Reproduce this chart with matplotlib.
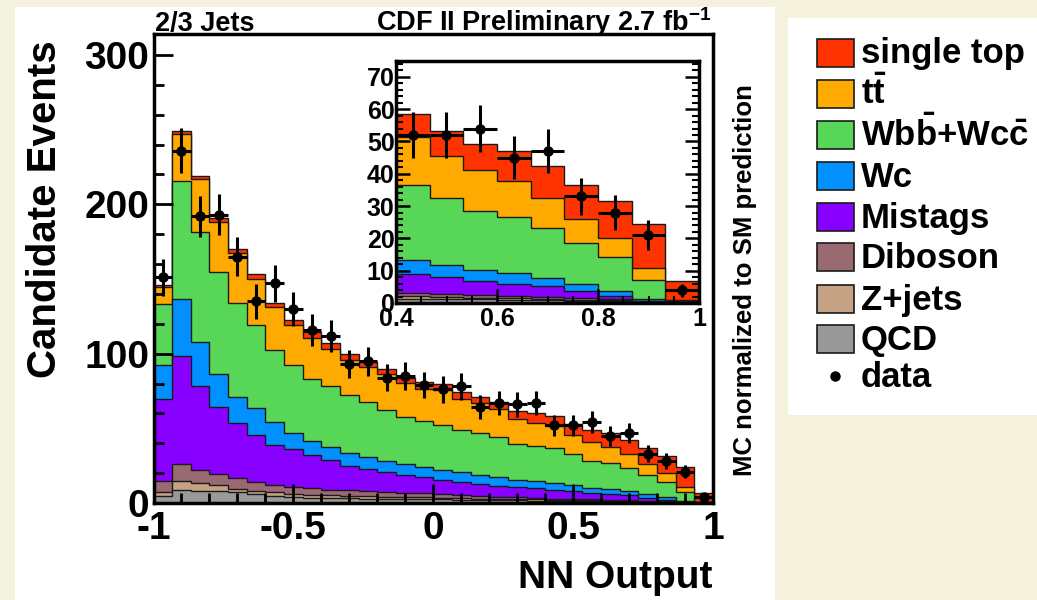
import numpy as np
import matplotlib
matplotlib.use("Agg")
import matplotlib.pyplot as plt
from matplotlib.patches import Rectangle
from matplotlib.ticker import MultipleLocator

plt.rcParams["font.family"] = ["Liberation Sans", "DejaVu Sans"]
plt.rcParams["font.weight"] = "bold"
plt.rcParams["mathtext.fontset"] = "custom"
plt.rcParams["mathtext.rm"] = "Liberation Sans:bold"
plt.rcParams["mathtext.bf"] = "Liberation Sans:bold"
plt.rcParams["mathtext.it"] = "Liberation Sans:bold"
plt.rcParams["axes.unicode_minus"] = False

# 30 bins of NN output from -1 to 1
edges = np.linspace(-1, 1, 31)

qcd = [4.9, 8.7, 7.8, 8.3, 7.1, 6.0, 4.9, 3.8, 3.5, 3.3, 3.1, 3.0, 2.9, 2.7, 2.6,
       2.4, 2.2, 2.0, 1.9, 1.8, 1.6, 1.3, 1.2, 1.1, 1.0, 0.9, 0.7, 0.5, 0.2, 0.05]
zjets = [2.7, 5.8, 5.4, 3.8, 2.3, 2.3, 2.2, 2.4, 2.0, 1.9, 1.8, 1.6, 1.4, 1.3, 1.1,
         1.1, 1.0, 1.0, 0.9, 0.8, 0.8, 0.8, 0.7, 0.6, 0.5, 0.4, 0.3, 0.3, 0.15, 0.05]
diboson = [6.9, 11.7, 8.9, 7.4, 7.4, 5.5, 5.2, 4.7, 4.3, 3.8, 3.6, 3.4, 3.2, 3.0, 2.8,
           2.3, 2.1, 1.8, 1.5, 1.3, 1.0, 0.9, 0.9, 0.8, 0.7, 0.6, 0.5, 0.3, 0.15, 0.1]
mistags = [55.3, 72.4, 55.9, 44.7, 36.9, 32.0, 26.8, 25.1, 22.2, 19.5, 16.5, 14.5, 13.0, 12.0, 10.7,
           9.6, 8.5, 7.9, 7.3, 6.6, 6.6, 6.0, 5.2, 4.2, 3.8, 3.3, 2.1, 1.2, 0.2, 0.1]
wc = [22.8, 38.3, 29.8, 22.4, 17.2, 18.0, 15.0, 10.7, 9.3, 8.8, 8.5, 8.0, 7.5, 7.0, 7.2,
      6.7, 6.7, 6.3, 6.1, 5.0, 4.5, 4.4, 3.9, 3.4, 3.3, 2.6, 2.4, 1.5, 0.6, 0.1]
wbb = [40.9, 78.9, 73.8, 67.8, 63.3, 55.7, 48.6, 45.4, 41.9, 40.7, 38.5, 36.8, 34.4, 31.4, 30.8,
       29.8, 28.5, 27.7, 26.8, 24.1, 23.5, 23.1, 20.6, 18.3, 17.4, 15.3, 12.6, 10.4, 5.8, 0.25]
ttbar = [11.0, 31.2, 35.4, 33.9, 32.9, 30.8, 28.6, 26.9, 27.5, 25.3, 24.0, 23.7, 23.7, 22.9, 21.3,
         23.5, 20.7, 20.1, 18.6, 16.8, 15.5, 15.0, 13.0, 12.7, 11.0, 9.5, 7.5, 5.8, 3.6, 0.2]
single_top = [1.5, 2.0, 2.0, 2.3, 2.9, 2.9, 2.9, 3.3, 3.8, 3.8, 3.5, 3.4, 3.8, 3.6, 4.5,
              4.0, 4.5, 4.1, 4.4, 5.5, 6.5, 6.9, 7.7, 8.1, 9.5, 9.8, 10.4, 11.7, 13.6, 6.1]
data = [151, 236, 192, 193, 165, 135, 147, 130, 116, 112, 93, 95, 84, 85, 79,
        76, 78, 64, 67, 66, 67, 52, 52, 54, 45, 47, 33, 28, 21, 4]

# bottom -> top
components = [qcd, zjets, diboson, mistags, wc, wbb, ttbar, single_top]
colors = ["#999999", "#c4a283", "#9a6a72", "#8800ff", "#0090ff", "#58d658", "#ffaa00", "#ff3300"]
names = ["QCD", "Z+jets", "Diboson", "Mistags", "Wc",
         r"Wb$\bar{\rm b}$+Wc$\bar{\rm c}$", r"t$\bar{\rm t}$", "single top"]


def draw_stack(ax, lo, hi):
    cum = np.cumsum(np.array(components), axis=0)
    for i in range(len(components) - 1, -1, -1):
        ax.stairs(cum[i][lo:hi], edges[lo:hi + 1], baseline=0, fill=True,
                  facecolor=colors[i], edgecolor="#1a1a1a", linewidth=1)
    d = np.array(data[lo:hi], dtype=float)
    centers = 0.5 * (edges[lo:hi] + edges[lo + 1:hi + 1])
    ax.errorbar(centers, d, xerr=0.5 * (edges[1] - edges[0]), yerr=np.sqrt(d),
                fmt="o", color="black", ms=6.5, elinewidth=2.2, capsize=0, zorder=5)


fig = plt.figure(figsize=(10.37, 6.0), dpi=100, facecolor="#f4f1dc")
W, H = 1037.0, 600.0

# white panel behind the plot
bg = fig.add_axes([15 / W, 0, (775 - 15) / W, (600 - 7) / H])
bg.set_facecolor("white")
bg.set_xticks([])
bg.set_yticks([])
for s in bg.spines.values():
    s.set_visible(False)
bg.set_zorder(-5)

# main histogram
ax = fig.add_axes([153.5 / W, (H - 503) / H, (713 - 153.5) / W, (503 - 34) / H])
ax.set_zorder(2)
ax.set_facecolor("white")
draw_stack(ax, 0, 30)
ax.set_xlim(-1, 1)
ax.set_ylim(0, 314)
ax.set_xticks([-1, -0.5, 0, 0.5, 1])
ax.set_xticklabels(["-1", "-0.5", "0", "0.5", "1"])
ax.set_yticks([0, 100, 200, 300])
ax.xaxis.set_minor_locator(MultipleLocator(0.1))
ax.yaxis.set_minor_locator(MultipleLocator(20))
ax.tick_params(which="major", direction="in", length=14, width=2, labelsize=28, pad=6)
ax.tick_params(which="minor", direction="in", length=7, width=2)
ax.tick_params(axis="y", pad=3)
for s in ax.spines.values():
    s.set_linewidth(2.5)

# zoomed inset 0.4 - 1
axin = fig.add_axes([396 / W, (H - 303) / H, (699 - 396) / W, (303 - 60.7) / H])
axin.set_zorder(3)
axin.set_facecolor("white")
draw_stack(axin, 21, 30)
axin.set_xlim(0.4, 1)
axin.set_ylim(0, 75)
axin.set_xticks([0.4, 0.6, 0.8, 1.0])
axin.set_xticklabels(["0.4", "0.6", "0.8", "1"])
axin.set_yticks(range(0, 71, 10))
axin.xaxis.set_minor_locator(MultipleLocator(0.05))
axin.yaxis.set_minor_locator(MultipleLocator(2))
axin.tick_params(which="major", direction="in", length=10, width=1.8, labelsize=18,
                 pad=3, right=True)
axin.tick_params(which="minor", direction="in", length=5, width=1.5, right=True)
axin.tick_params(axis="y", pad=1)
for s in axin.spines.values():
    s.set_linewidth(2.5)

# labels
fig.text(155 / W, 1 - 31 / H, "2/3 Jets", fontsize=19.5, ha="left", va="baseline")
fig.text(712 / W, 1 - 31 / H, r"CDF II Preliminary 2.7 fb$^{-1}$", fontsize=19.5,
         ha="right", va="baseline")
fig.text(45 / W, 1 - 209 / H, "Candidate Events", fontsize=29, rotation=90,
         ha="center", va="center")
fig.text(712 / W, 1 - 578 / H, "NN Output", fontsize=28, ha="right", va="center")
fig.text(745 / W, 1 - 280 / H, "MC normalized to SM prediction", fontsize=18.5,
         rotation=90, ha="center", va="center")

# legend box
lax = fig.add_axes([788 / W, (H - 415) / H, (W - 788) / W, (415 - 18) / H])
lax.set_xlim(788, 1037)
lax.set_ylim(415, 18)
lax.set_facecolor("white")
lax.set_xticks([])
lax.set_yticks([])
for s in lax.spines.values():
    s.set_visible(False)
entry_y = [52.5, 93.5, 135, 176, 217, 257, 299, 339]
for k, i in enumerate(range(len(components) - 1, -1, -1)):
    y = entry_y[k]
    lax.add_patch(Rectangle((817, y - 14), 37, 28, facecolor=colors[i],
                            edgecolor="#1a1a1a", linewidth=1.2))
    lax.text(861, y + 11, names[i], fontsize=25, ha="left", va="baseline")
lax.plot([835], [376], "o", color="black", ms=6.5)
lax.text(861, 376 + 11, "data", fontsize=25, ha="left", va="baseline")

fig.savefig("out.png", dpi=100, facecolor=fig.get_facecolor())
